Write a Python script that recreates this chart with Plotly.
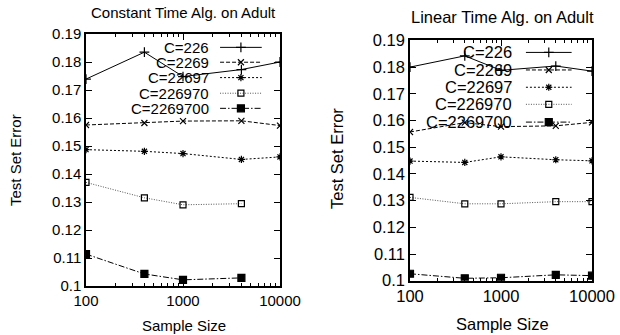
import plotly.graph_objects as go

# ---- data ----
sample_sizes = [100, 400, 1000, 4000, 10000]
series_labels = ["C=226", "C=2269", "C=22697", "C=226970", "C=2269700"]

const_226 = [0.1739, 0.1835, 0.1748, 0.1773, 0.1800]
const_2269 = [0.1575, 0.1582, 0.1589, 0.1590, 0.1573]
const_22697 = [0.1487, 0.1481, 0.1473, 0.1452, 0.1461]
const_226970 = [0.1370, 0.1315, 0.1290, 0.1294, None]
const_2269700 = [0.1114, 0.1043, 0.1022, 0.1029, None]

linear_226 = [0.1800, 0.1842, 0.1788, 0.1804, 0.1785]
linear_2269 = [0.1557, 0.1592, 0.1577, 0.1580, 0.1593]
linear_22697 = [0.1448, 0.1443, 0.1464, 0.1453, 0.1449]
linear_226970 = [0.1312, 0.1288, 0.1288, 0.1296, 0.1296]
linear_2269700 = [0.1026, 0.1009, 0.1011, 0.1022, 0.1019]

y_ticks = [0.10, 0.11, 0.12, 0.13, 0.14, 0.15, 0.16, 0.17, 0.18, 0.19]
y_tick_text = ["0.1", "0.11", "0.12", "0.13", "0.14", "0.15", "0.16", "0.17", "0.18", "0.19"]
x_ticks = [100, 1000, 10000]
x_tick_text = ["100", "1000", "10000"]
x_minor = [200, 300, 400, 500, 600, 700, 800, 900, 2000, 3000, 4000, 5000, 6000, 7000, 8000, 9000]

# ---- styles ----
dashes = ["solid", "4px,2px", "2px,2px", "1px,1.5px", "6px,2px,1.5px,2px"]
symbols = ["cross-thin-open", "x-thin-open", "asterisk-open", "square-open", "square"]
msizes = [7, 6, 6, 6, 7]
line_colors = ["black", "black", "black", "#555", "black"]

const_series = [const_226, const_2269, const_22697, const_226970, const_2269700]
linear_series = [linear_226, linear_2269, linear_22697, linear_226970, linear_2269700]

FONT = "Liberation Sans, Arial, sans-serif"
FS_L = 15
FS_R = 16.5

fig = go.Figure()

def add_panel(series, xa, ya):
    for i, vals in enumerate(series):
        fig.add_trace(go.Scatter(
            x=sample_sizes, y=vals, mode="lines+markers",
            xaxis=xa, yaxis=ya, showlegend=False, connectgaps=False,
            line=dict(color=line_colors[i], width=1, dash=dashes[i]),
            marker=dict(symbol=symbols[i], size=msizes[i], color="black",
                        line=dict(color="black", width=1.2)),
        ))

add_panel(const_series, "x", "y")
add_panel(linear_series, "x2", "y2")

# legend samples on hidden overlay axes (gnuplot-style key)
def add_key(xa, ya, rows, x_text, x0, x1, fsize):
    for i, lab in enumerate(series_labels):
        yy = rows[i]
        fig.add_trace(go.Scatter(
            x=[x0, x1], y=[yy, yy], mode="lines", xaxis=xa, yaxis=ya,
            showlegend=False, hoverinfo="skip",
            line=dict(color=line_colors[i], width=1, dash=dashes[i])))
        fig.add_trace(go.Scatter(
            x=[(x0 + x1) / 2], y=[yy], mode="markers", xaxis=xa, yaxis=ya,
            showlegend=False, hoverinfo="skip",
            marker=dict(symbol=symbols[i], size=msizes[i], color="black",
                        line=dict(color="black", width=1.2))))
        fig.add_annotation(x=x_text, y=yy, xref=xa, yref=ya, text=lab,
                           showarrow=False, xanchor="right", yanchor="middle",
                           font=dict(family=FONT, size=fsize, color="black"))

left_dom_x = [86 / 620, 280 / 620]
left_dom_y = [1 - 286 / 335, 1 - 34 / 335]
right_dom_x = [410 / 620, 592 / 620]
right_dom_y = [1 - 280.7 / 335, 1 - 40.4 / 335]

add_key("x3", "y3", [0.947, 0.888, 0.827, 0.765, 0.705], 0.645, 0.691, 0.906, FS_L)
add_key("x4", "y4", [0.950, 0.877, 0.805, 0.734, 0.660], 0.573, 0.637, 0.888, FS_R)

def xaxis_cfg(dom, anchor, fsize):
    return dict(domain=dom, anchor=anchor, type="log", range=[2, 4], automargin=False,
                tickvals=x_ticks, ticktext=x_tick_text,
                ticks="inside", ticklen=6, tickwidth=1, tickcolor="black",
                showline=True, linecolor="black", linewidth=1.5, mirror="allticks",
                showgrid=False, zeroline=False,
                minor=dict(tickvals=x_minor, ticks="inside", ticklen=3,
                           tickcolor="black", showgrid=False),
                tickfont=dict(family=FONT, size=fsize, color="black"))

def yaxis_cfg(dom, anchor, fsize):
    return dict(domain=dom, anchor=anchor, range=[0.1, 0.19], automargin=False,
                tickvals=y_ticks, ticktext=y_tick_text,
                ticks="inside", ticklen=6, tickwidth=1, tickcolor="black",
                showline=True, linecolor="black", linewidth=1.5, mirror="allticks",
                showgrid=False, zeroline=False,
                tickfont=dict(family=FONT, size=fsize, color="black"))

def hidden(dom, anchor, over):
    return dict(visible=False, range=[0, 1], showgrid=False, zeroline=False,
                fixedrange=True, automargin=False, domain=dom, anchor=anchor,
                overlaying=over)

fig.update_layout(
    width=620, height=335, autosize=False,
    margin=dict(l=0, r=0, t=0, b=0),
    paper_bgcolor="white", plot_bgcolor="rgba(0,0,0,0)",
    xaxis=xaxis_cfg(left_dom_x, "y", FS_L),
    yaxis=yaxis_cfg(left_dom_y, "x", FS_L),
    xaxis2=xaxis_cfg(right_dom_x, "y2", FS_R),
    yaxis2=yaxis_cfg(right_dom_y, "x2", FS_R),
    xaxis3=hidden(left_dom_x, "y3", "x"),
    yaxis3=hidden(left_dom_y, "x3", "y"),
    xaxis4=hidden(right_dom_x, "y4", "x2"),
    yaxis4=hidden(right_dom_y, "x4", "y2"),
)

# titles and axis labels
texts = [
    ("Constant Time Alg. on Adult", 183 / 620, 1 - 12 / 335, 0, FS_L),
    ("Linear Time Alg. on Adult", 502 / 620, 1 - 16.5 / 335, 0, FS_R),
    ("Sample Size", 184 / 620, 1 - 325 / 335, 0, FS_L),
    ("Sample Size", 502 / 620, 1 - 324 / 335, 0, FS_R),
    ("Test Set Error", 15 / 620, 1 - 160 / 335, -90, FS_L),
    ("Test Set Error", 337 / 620, 1 - 159 / 335, -90, FS_R),
]
for t, x, y, ang, fs in texts:
    fig.add_annotation(text=t, x=x, y=y, xref="paper", yref="paper",
                       showarrow=False, xanchor="center", yanchor="middle",
                       textangle=ang, font=dict(family=FONT, size=fs, color="black"))

fig.write_html("out.html", config={"displayModeBar": False},
               post_script="document.body.style.margin='0';document.body.style.overflow='hidden';")
